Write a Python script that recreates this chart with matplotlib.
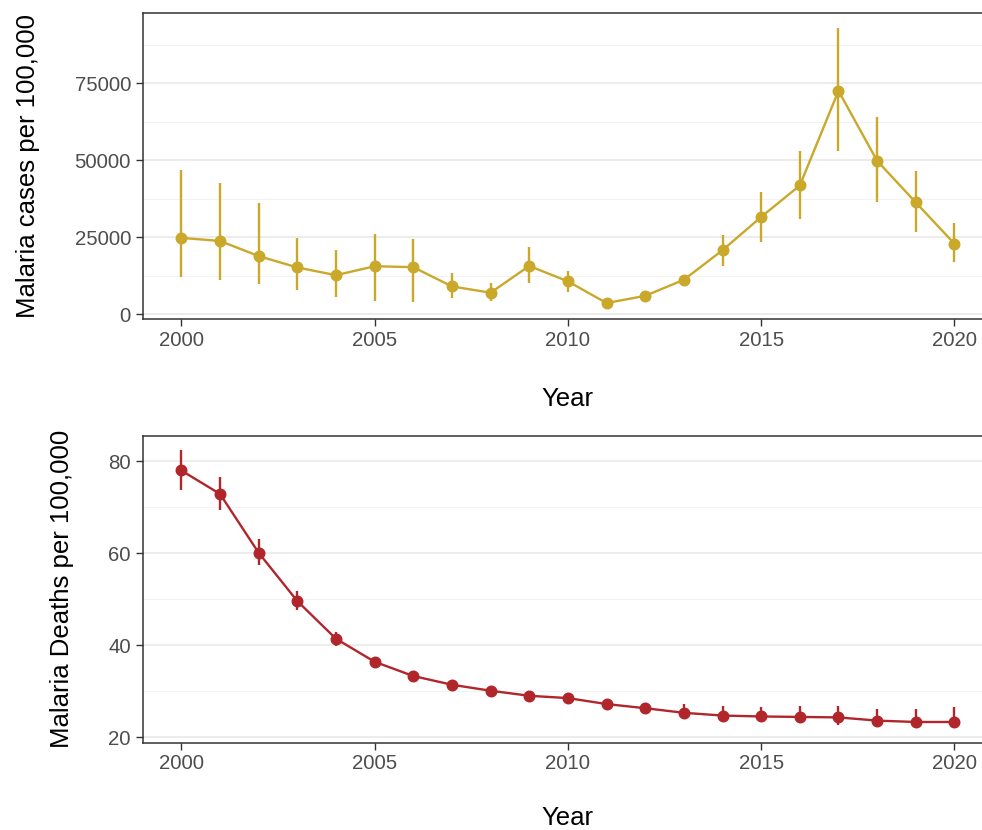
import matplotlib
matplotlib.use("Agg")
import matplotlib.pyplot as plt
from matplotlib.ticker import MultipleLocator, FixedLocator

plt.rcParams['font.family'] = ['Liberation Sans', 'DejaVu Sans']

years = list(range(2000, 2021))

cases = [24800, 23800, 18900, 15200, 12700, 15600, 15300, 9060, 7000, 15700, 10700,
         3650, 6000, 11200, 20800, 31600, 41800, 72500, 49800, 36300, 22900]
cases_low = [12100, 11100, 9800, 7900, 5700, 4300, 3900, 5300, 4400, 10250, 7200,
             3000, 5400, 9400, 15600, 23500, 30900, 53100, 36400, 26600, 16900]
cases_high = [46700, 42600, 36000, 24600, 20900, 26000, 24300, 13300, 10250, 21900, 14000,
              4400, 6700, 12900, 25800, 39700, 53100, 93000, 63900, 46500, 29500]

deaths = [78.0, 72.9, 60.1, 49.6, 41.4, 36.4, 33.3, 31.4, 30.1, 29.0, 28.5,
          27.2, 26.3, 25.3, 24.7, 24.5, 24.4, 24.3, 23.6, 23.3, 23.3]
deaths_low = [73.8, 69.4, 57.5, 47.6, 39.9, 35.7, 32.7, 30.8, 29.5, 28.4, 27.9,
              26.3, 25.3, 24.1, 23.6, 23.4, 23.3, 22.7, 22.6, 22.3, 21.9]
deaths_high = [82.5, 76.5, 63.0, 51.7, 42.8, 37.1, 33.9, 32.0, 30.7, 29.6, 29.2,
               28.1, 27.4, 27.2, 26.7, 26.6, 26.7, 26.8, 26.2, 26.1, 26.5]

gold = '#C9A82A'
red = '#B0262B'

fig = plt.figure(figsize=(9.82, 8.3), dpi=100)
ax1 = fig.add_axes([0.1453, 0.6153, 0.866, 0.3687])
ax2 = fig.add_axes([0.1453, 0.1052, 0.866, 0.3695])

def style(ax, major, minor, ylabel, xpad):
    ax.set_xlim(1999, 2021)
    ax.yaxis.set_major_locator(FixedLocator(major))
    ax.yaxis.set_minor_locator(FixedLocator(minor))
    ax.xaxis.set_major_locator(MultipleLocator(5))
    ax.grid(True, axis='y', which='major', color='#EBEBEB', linewidth=1.3, zorder=0)
    ax.grid(True, axis='y', which='minor', color='#F2F2F2', linewidth=0.7, zorder=0)
    ax.set_axisbelow(True)
    for s in ax.spines.values():
        s.set_color('#333333')
        s.set_linewidth(1.1)
    ax.tick_params(axis='both', which='major', length=5, width=1, color='#333333',
                   labelsize=14.7, labelcolor='#4D4D4D', pad=3.5)
    ax.tick_params(axis='y', which='minor', length=0)
    ax.set_xlabel('Year', fontsize=18.5, labelpad=xpad, color='black')
    ax.set_ylabel(ylabel, fontsize=18.5, labelpad=24.5, color='black')

def draw(ax, y, lo, hi, color):
    for x, l, h in zip(years, lo, hi):
        ax.plot([x, x], [l, h], color=color, linewidth=1.7, solid_capstyle='butt', zorder=2)
    ax.plot(years, y, color=color, linewidth=1.7, zorder=3)
    ax.plot(years, y, 'o', color=color, markersize=7.6, zorder=4)

draw(ax1, cases, cases_low, cases_high, gold)
ax1.set_ylim(-1617, 97670)
style(ax1, [0, 25000, 50000, 75000], [12500, 37500, 62500, 87500],
      'Malaria cases per 100,000', 26.5)

draw(ax2, deaths, deaths_low, deaths_high, red)
ax2.set_ylim(18.8, 85.5)
style(ax2, [20, 40, 60, 80], [30, 50, 70], 'Malaria Deaths per 100,000', 23.5)

fig.savefig('out.png', dpi=100)
